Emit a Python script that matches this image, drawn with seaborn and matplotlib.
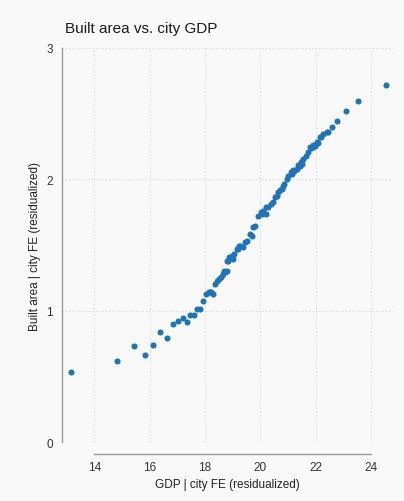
import matplotlib
matplotlib.use("Agg")
import matplotlib.pyplot as plt
import seaborn as sns
import pandas as pd

# Residualized log GDP (x) and residualized built area (y), one point per city-year bin
gdp_resid = [
    13.15, 14.83, 15.42, 15.83, 16.11, 16.39, 16.63, 16.83, 17.01, 17.19,
    17.34, 17.47, 17.60, 17.72, 17.83, 17.93, 18.03, 18.13, 18.18, 18.22,
    18.30, 18.37, 18.45, 18.49, 18.57, 18.64, 18.67, 18.73, 18.79, 18.79,
    18.85, 18.88, 18.97, 19.02, 19.06, 19.15, 19.20, 19.24, 19.27, 19.36,
    19.45, 19.51, 19.63, 19.69, 19.75, 19.81, 19.93, 20.03, 20.05, 20.11,
    20.19, 20.20, 20.29, 20.39, 20.47, 20.53, 20.59, 20.63, 20.71, 20.77,
    20.81, 20.87, 20.95, 21.01, 21.10, 21.13, 21.19, 21.23, 21.31, 21.37,
    21.43, 21.46, 21.50, 21.55, 21.65, 21.74, 21.79, 21.83, 21.89, 21.92,
    21.97, 22.04, 22.07, 22.16, 22.18, 22.28, 22.40, 22.44, 22.58, 22.78,
    23.09, 23.52, 24.53,
]
area_resid = [
    0.530, 0.620, 0.730, 0.660, 0.740, 0.835, 0.790, 0.900, 0.920, 0.945,
    0.910, 0.970, 0.970, 1.015, 1.015, 1.075, 1.127, 1.140, 1.140, 1.140,
    1.130, 1.203, 1.224, 1.241, 1.254, 1.280, 1.305, 1.292, 1.305, 1.381,
    1.381, 1.406, 1.419, 1.394, 1.432, 1.470, 1.470, 1.495, 1.495, 1.483,
    1.521, 1.533, 1.584, 1.571, 1.635, 1.648, 1.724, 1.749, 1.736, 1.762,
    1.736, 1.787, 1.787, 1.813, 1.825, 1.864, 1.876, 1.902, 1.922, 1.928,
    1.952, 1.965, 2.003, 2.023, 2.054, 2.041, 2.074, 2.066, 2.079, 2.110,
    2.104, 2.130, 2.117, 2.155, 2.180, 2.206, 2.244, 2.237, 2.262, 2.244,
    2.257, 2.283, 2.277, 2.320, 2.320, 2.346, 2.363, 2.363, 2.397, 2.447,
    2.523, 2.595, 2.719,
]

x_ticks = [14, 16, 18, 20, 22, 24]
y_ticks = [0, 1, 2, 3]

df = pd.DataFrame({"gdp": gdp_resid, "area": area_resid})

sns.set_style("white")
plt.rcParams["font.family"] = ["Liberation Sans", "DejaVu Sans"]

bg = "#f9f9f9"
fig = plt.figure(figsize=(4.04, 5.02), dpi=100, facecolor=bg)
ax = fig.add_axes([0.1535, 0.1175, 0.8193, 0.7849], facecolor=bg)

sns.scatterplot(data=df, x="gdp", y="area", ax=ax, color="#1f74b6",
                s=19, linewidth=0, zorder=3)

ax.set_xlim(12.83, 24.8)
ax.set_ylim(0, 3)
ax.set_xticks(x_ticks)
ax.set_yticks(y_ticks)

ax.grid(True, color="#d8d8d8", linestyle=(0, (1, 2)), linewidth=0.8, zorder=0)

for side in ("top", "right"):
    ax.spines[side].set_visible(False)
spine_col = "#999999"
ax.spines["left"].set_color(spine_col)
ax.spines["bottom"].set_color(spine_col)
ax.spines["left"].set_linewidth(1.0)
ax.spines["bottom"].set_linewidth(1.0)
ax.spines["bottom"].set_position(("outward", 8.6))
ax.spines["bottom"].set_bounds(14, 24)
ax.spines["left"].set_bounds(0, 3)

ax.tick_params(axis="x", direction="in", length=3, width=1.0, color=spine_col,
               labelsize=8.5, labelcolor="#333333", pad=5)
ax.tick_params(axis="y", direction="out", length=3.5, width=1.0, color=spine_col,
               labelsize=8.5, labelcolor="#333333", pad=3)

ax.set_xlabel("GDP | city FE (residualized)", fontsize=8.5, color="#222222",
              labelpad=4)
ax.set_ylabel("Built area | city FE (residualized)", fontsize=8.5,
              color="#222222", labelpad=4)

fig.text(0.161, 0.942, "Built area vs. city GDP", fontsize=11,
         color="#1a1a1a", ha="left", va="center")

fig.savefig("out.png", dpi=100, facecolor=bg)
